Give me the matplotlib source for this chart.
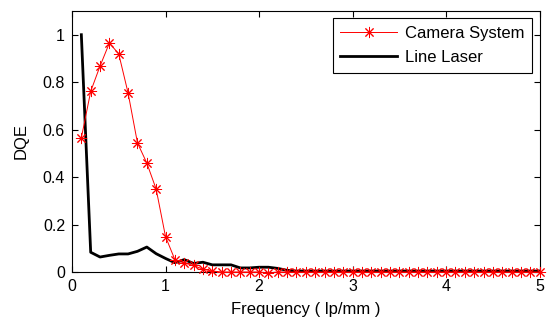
import numpy as np
import matplotlib
matplotlib.use('Agg')
import matplotlib.pyplot as plt

plt.rcParams['font.family'] = ['Liberation Sans', 'DejaVu Sans']

freq = np.round(np.arange(1, 51) * 0.1, 1)

camera_head = [0.565, 0.761, 0.868, 0.965, 0.919, 0.754, 0.544, 0.459, 0.349, 0.149,
               0.052, 0.037, 0.028, 0.011, 0.004, 0.0, 0.0, 0.0, 0.0, 0.0,
               -0.004]
camera = camera_head + [0.0] * (50 - len(camera_head))

laser_head = [1.0, 0.083, 0.063, 0.07, 0.076, 0.076, 0.087, 0.105, 0.077, 0.057,
              0.039, 0.052, 0.036, 0.041, 0.030, 0.030, 0.030, 0.017, 0.017, 0.02,
              0.02, 0.015, 0.007]
laser = laser_head + [0.004] * (50 - len(laser_head))

fig = plt.figure(figsize=(5.47, 3.23), dpi=100)
ax = fig.add_axes([0.1316, 0.158, 0.855, 0.808])

ax.plot(freq, camera, color='red', marker=(8, 2, 0), markersize=8, linewidth=0.7,
        markeredgewidth=0.7, label='Camera System', clip_on=False, zorder=3)
ax.plot(freq, laser, color='black', linewidth=2, label='Line Laser', zorder=2)

ax.set_xlim(0, 5)
ax.set_ylim(0, 1.1)
ax.set_xticks([0, 1, 2, 3, 4, 5])
ax.set_xticklabels(['0', '1', '2', '3', '4', '5'])
ax.set_yticks([0, 0.2, 0.4, 0.6, 0.8, 1.0])
ax.set_yticklabels(['0', '0.2', '0.4', '0.6', '0.8', '1'])
ax.tick_params(direction='in', top=True, right=True, labelsize=11.5, length=4, pad=5)
for s in ax.spines.values():
    s.set_linewidth(0.8)

ax.set_xlabel('Frequency ( lp/mm )', fontsize=12, labelpad=6)
ax.set_ylabel('DQE', fontsize=12, labelpad=10)

leg = ax.legend(loc='upper right', fontsize=12, fancybox=False, framealpha=1,
                edgecolor='black', borderaxespad=0.45, handlelength=3.4,
                borderpad=0.45, labelspacing=0.55, handletextpad=0.5)
leg.get_frame().set_linewidth(0.8)

fig.savefig('out.png', dpi=100)
